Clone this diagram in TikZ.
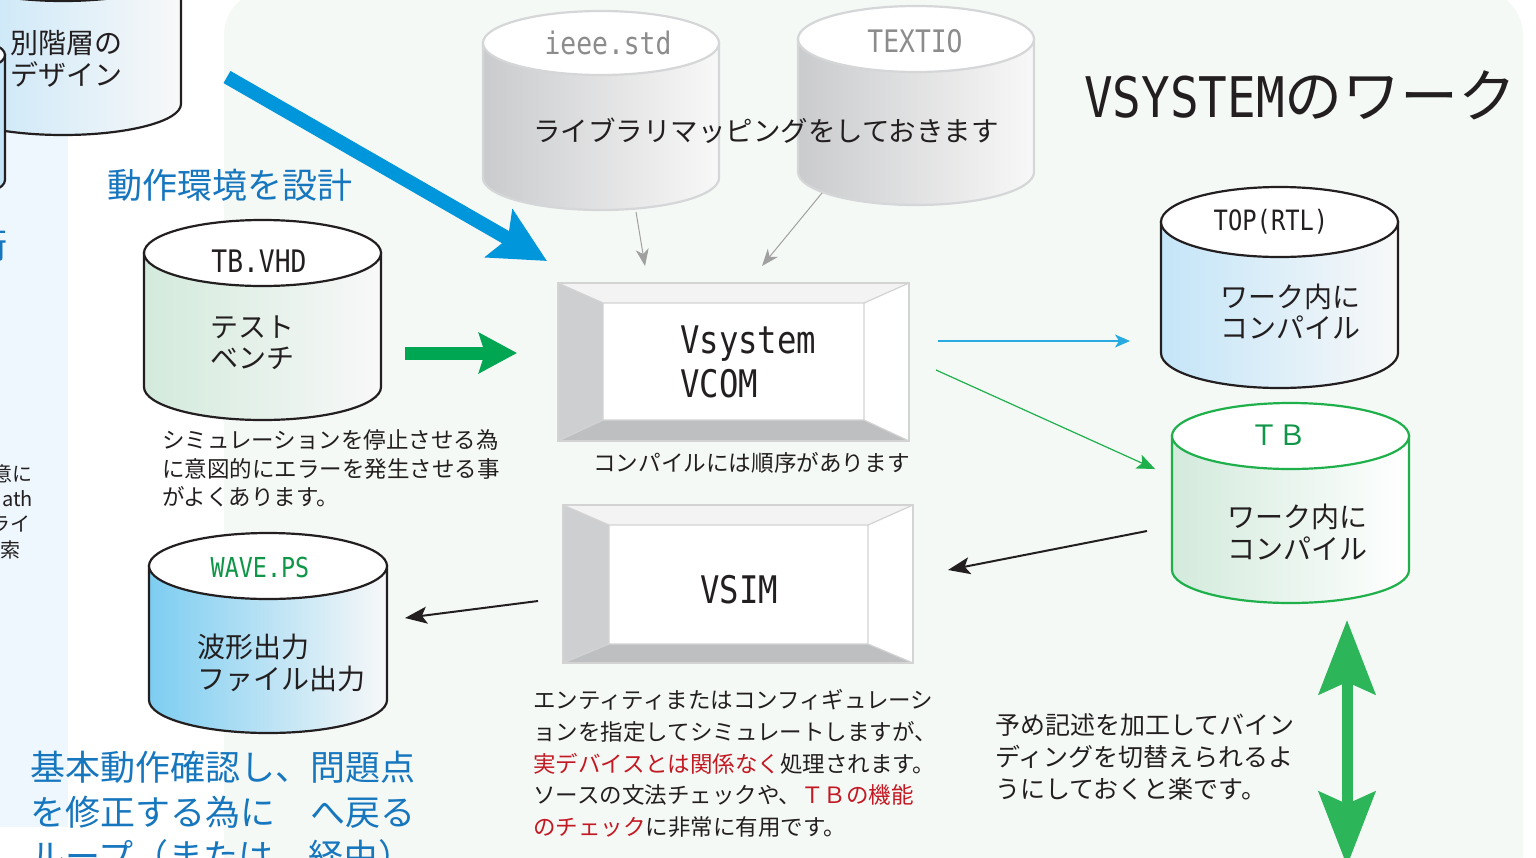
\documentclass[tikz,border=0pt]{standalone}
\usepackage{fontspec}
\setmainfont{Noto Sans CJK JP}
\newfontfamily\cond[FakeStretch=0.85]{DejaVu Sans Mono}
\usetikzlibrary{arrows.meta}
\definecolor{panelbg}{HTML}{F5F9F6}
\definecolor{bandbg}{HTML}{EEF7FD}
\definecolor{txt}{HTML}{231F20}
\definecolor{jblue}{RGB}{22,118,190}
\definecolor{redtxt}{RGB}{195,25,35}
\definecolor{greentxt}{RGB}{16,150,72}
\definecolor{arrowblue}{HTML}{0096DB}
\definecolor{arrowgreen}{HTML}{00A651}
\definecolor{dblgreen}{HTML}{2DB55A}
\definecolor{thincyan}{HTML}{29ABE2}
\definecolor{thingreen}{HTML}{1DB04B}
\definecolor{tbgreen}{HTML}{20B04B}
\definecolor{graytxt}{HTML}{8C8C8C}
\definecolor{grayline}{HTML}{D5D6D7}
\definecolor{grayL}{HTML}{CACBCD}
\definecolor{grayR}{HTML}{F8F8F8}
\definecolor{greenL}{HTML}{D3EADC}
\definecolor{blueL}{HTML}{C4E5F8}
\definecolor{waveL}{HTML}{7DCDF1}
\definecolor{bevL}{HTML}{CECFD1}
\definecolor{bevT}{HTML}{F3F3F3}
\definecolor{bevB}{HTML}{BEBFC1}
\definecolor{bevline}{HTML}{D3D3D3}
\definecolor{arrowgray}{HTML}{A0A0A0}
\newcommand\drawcyl[8]{%
  \path[draw=#8, line width=2.2pt, left color=#6, right color=#7]
    (#1-#4,#2) -- (#1-#4,#3) arc[start angle=180,end angle=0,x radius=#4,y radius=#5] -- (#1+#4,#2) -- cycle;
  \path[draw=#8, line width=2.2pt, fill=white] (#1,#2) ellipse[x radius=#4, y radius=#5];
}
\newcommand\drawbevel[8]{%
  \fill[bevT] (#1,#2) -- (#3,#2) -- (#7,#6) -- (#5,#6) -- cycle;
  \fill[bevL] (#1,#2) -- (#5,#6) -- (#5,#8) -- (#1,#4) -- cycle;
  \fill[white] (#3,#2) -- (#3,#4) -- (#7,#8) -- (#7,#6) -- cycle;
  \fill[bevB] (#1,#4) -- (#5,#8) -- (#7,#8) -- (#3,#4) -- cycle;
  \fill[white] (#5,#6) rectangle (#7,#8);
  \draw[bevline, line width=1.5pt] (#1,#2) rectangle (#3,#4);
  \draw[bevline, line width=1.2pt] (#1,#2) -- (#5,#6) (#3,#2) -- (#7,#6) (#1,#4) -- (#5,#8) (#3,#4) -- (#7,#8) (#5,#6) rectangle (#7,#8);
}
\tikzset{
  jt/.style={inner sep=0pt, text=txt},
  jleft/.style={jt, anchor=west, align=left},
  bigblue/.style={draw=arrowblue, line width=14pt, -{Stealth[length=55pt,width=54pt,inset=10pt]}},
  biggreen/.style={draw=arrowgreen, line width=13pt, -{Stealth[length=38pt,width=40pt,inset=6pt]}},
  dblarrow/.style={draw=dblgreen, line width=11pt, {Stealth[length=74pt,width=56pt,inset=12pt]}-{Stealth[length=74pt,width=56pt,inset=12pt]}},
  cyanarrow/.style={draw=thincyan, line width=1.3pt, -{Stealth[length=15pt,width=13pt,inset=4pt]}},
  greenthin/.style={draw=thingreen, line width=1.2pt, -{Stealth[length=18pt,width=15pt,inset=4pt]}},
  blackarrow/.style={draw=txt, line width=2pt, -{Stealth[length=22pt,width=17pt,inset=5pt]}},
  grayarrow/.style={draw=arrowgray, line width=1pt, -{Stealth[length=17pt,width=13pt,inset=5pt]}},
}
\begin{document}
\begin{tikzpicture}[x=1pt,y=-1pt]
\useasboundingbox (0,0) rectangle (1536,857);
\fill[white] (0,0) rectangle (1536,857);
\fill[bandbg] (0,0) rectangle (68,827);
\fill[panelbg, rounded corners=45pt] (224,-10) rectangle (1523,900);

% left fragments
\drawcyl{63}{-30}{104}{118}{31}{blueL}{grayR}{txt}
\drawcyl{-33}{55}{180}{38}{15}{blueL}{blueL}{txt}
\node[jleft, font=\fontsize{28}{32}\selectfont] (betsu) at (10,59) {別階層の\\デザイン};
\node[jt, text=jblue, font=\fontsize{35}{40}\selectfont, anchor=east] (fragblue) at (8,245) {術};
\node[jt, anchor=east, font=\fontsize{20}{24}\selectfont] (frag1) at (33,474) {意に};
\node[jt, anchor=east, font=\fontsize{20}{24}\selectfont] (frag2) at (33,499) {ath};
\node[jt, anchor=east, font=\fontsize{20}{24}\selectfont] (frag3) at (31,524) {ライ};
\node[jt, anchor=east, font=\fontsize{20}{24}\selectfont] (frag4) at (21,550) {索};

% headings
\node[jleft, text=jblue, font=\fontsize{35}{40}\selectfont] (dosa) at (107,185) {動作環境を設計};
\node[jleft, text=jblue, font=\fontsize{35}{44.5}\selectfont] (kihon) at (30,812) {基本動作確認し、問題点\\を修正する為に　へ戻る\\ループ（または　経由）};
\node[jt, anchor=west, font=\fontsize{58}{60}\selectfont] (title) at (1084,95) {{\cond\fontsize{56}{60}\selectfont VSYSTEM}のワーク};

% library cylinders
\drawcyl{601}{43}{178}{118}{32}{grayL}{grayR}{grayline}
\drawcyl{916}{39}{172}{118}{33}{grayL}{grayR}{grayline}
\node[jt, text=graytxt, font=\cond\fontsize{31}{34}\selectfont] (ieee) at (608,43) {ieee.std};
\node[jt, text=graytxt, font=\cond\fontsize{31}{34}\selectfont] (textio) at (915,41) {TEXTIO};
\node[jt, font=\fontsize{27.5}{30}\selectfont] (libmap) at (766,131) {ライブラリマッピングをしておきます};

% TB.VHD
\drawcyl{262.5}{253}{387}{118.5}{33}{greenL}{grayR}{txt}
\node[jt, font=\cond\fontsize{31}{34}\selectfont] (tbvhd) at (259,261) {TB.VHD};
\node[jleft, font=\fontsize{28}{31}\selectfont] (testbench) at (210,342.5) {テスト\\ベンチ};
\node[jleft, font=\fontsize{22.5}{28.5}\selectfont] (tbnote) at (162,468.5) {シミュレーションを停止させる為\\に意図的にエラーを発生させる事\\がよくあります。};

% WAVE.PS
\drawcyl{268}{566}{700}{119}{33}{waveL}{grayR}{txt}
\node[jt, text=greentxt, font=\cond\fontsize{27.5}{30}\selectfont] (wave) at (260,567) {WAVE.PS};
\node[jleft, font=\fontsize{28}{32}\selectfont] (hakei) at (197,663) {波形出力\\ファイル出力};

% Vsystem box
\drawbevel{558}{283}{909}{441}{603}{303}{864}{420}
\node[jleft, font=\cond\fontsize{38}{44}\selectfont] (vcom) at (680,362) {Vsystem\\VCOM};
\node[jt, anchor=west, font=\fontsize{22.6}{26}\selectfont] (order) at (593,463) {コンパイルには順序があります};

% VSIM box
\drawbevel{563}{505}{913}{663}{609}{525}{868}{644}
\node[jt, font=\cond\fontsize{38}{44}\selectfont] (vsim) at (739,590) {VSIM};

\node[jleft, font=\fontsize{22.5}{31.7}\selectfont] (simnote) at (533,763.5) {エンティティまたはコンフィギュレーシ\\ョンを指定してシミュレートしますが、\\\textcolor{redtxt}{実デバイスとは関係なく}処理されます。\\ソースの文法チェックや、\textcolor{redtxt}{ＴＢの機能}\\\textcolor{redtxt}{のチェック}に非常に有用です。};

% TOP(RTL)
\drawcyl{1279.5}{222}{353}{118.5}{35}{blueL}{grayR}{txt}
\node[jt, font=\cond\fontsize{28}{32}\selectfont] (toprtl) at (1271,222) {TOP(RTL)};
\node[jleft, font=\fontsize{28}{31}\selectfont] (work1) at (1220,311.5) {ワーク内に\\コンパイル};

% TB
\drawcyl{1290.5}{436}{570}{118.5}{33}{greenL}{white}{tbgreen}
\node[jt, text=greentxt, font=\fontsize{28}{32}\selectfont] (tb) at (1278,435) {ＴＢ};
\node[jleft, font=\fontsize{28}{32}\selectfont] (work2) at (1227,532) {ワーク内に\\コンパイル};

\node[jleft, font=\fontsize{25}{32}\selectfont] (bindnote) at (995,757) {予め記述を加工してバイン\\ディングを切替えられるよ\\うにしておくと楽です。};

% connector coordinates
\coordinate (bbS) at (227,77);
\coordinate (bbE) at (547,261);
\coordinate (gaS) at (405,353);
\coordinate (gaE) at (517,353);
\coordinate (ieS) at (636,212);
\coordinate (ieE) at (645,266);
\coordinate (txS) at (822,193);
\coordinate (txE) at (762,266);
\coordinate (cyS) at (938,341);
\coordinate (cyE) at (1130,341);
\coordinate (gtS) at (936,370);
\coordinate (gtE) at (1155,469);
\coordinate (b1S) at (1147,531);
\coordinate (b1E) at (948,570);
\coordinate (b2S) at (538,601);
\coordinate (b2E) at (405,618);
\coordinate (dS) at (1347,620);
\coordinate (dE) at (1347,866);

\draw[bigblue] (bbS) -- (bbE);
\draw[biggreen] (gaS) -- (gaE);
\draw[grayarrow] (ieS) -- (ieE);
\draw[grayarrow] (txS) -- (txE);
\draw[cyanarrow] (cyS) -- (cyE);
\draw[greenthin] (gtS) -- (gtE);
\draw[blackarrow] (b1S) -- (b1E);
\draw[blackarrow] (b2S) -- (b2E);
\draw[dblarrow] (dS) -- (dE);
\end{tikzpicture}
\end{document}
